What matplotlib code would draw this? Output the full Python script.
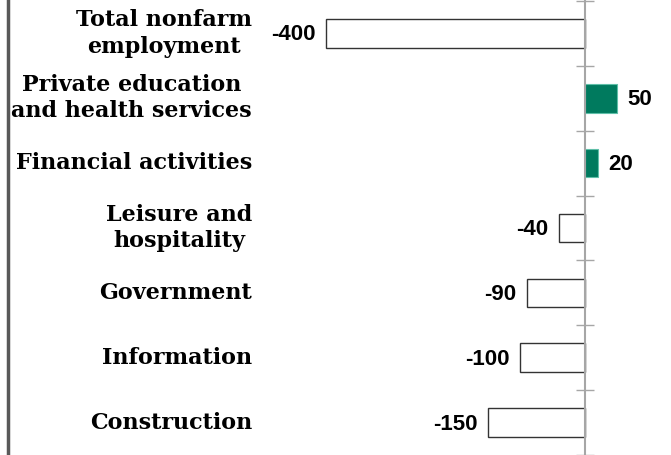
import matplotlib
matplotlib.use("Agg")
import matplotlib.pyplot as plt
from matplotlib.lines import Line2D
import matplotlib.transforms as mtransforms

categories = ["Total nonfarm\nemployment", "Private education\nand health services",
              "Financial activities", "Leisure and\nhospitality", "Government",
              "Information", "Construction"]
values = [-400, 50, 20, -40, -90, -100, -150]
value_labels = ["-400", "50", "20", "-40", "-90", "-100", "-150"]

W, H = 671, 455
fig = plt.figure(figsize=(W / 100, H / 100), dpi=100)
ax = fig.add_axes([0, 0, 1, 1])

px_per_unit = 0.6475
x0_px = 585
slot = 65.3
ax.set_xlim(-x0_px / px_per_unit, (W - x0_px) / px_per_unit)
top = -0.5 - 1 / slot
ax.set_ylim(top + H / slot, top)

pos_color = "#007A5E"
dy = 1.5 / slot
for i, v in enumerate(values):
    if v >= 0:
        ax.barh(i, v, height=0.44, color=pos_color, edgecolor="#5fbfa8", linewidth=0.8, zorder=2)
        ax.text(v + 10 / px_per_unit, i + dy, value_labels[i], ha="left", va="center",
                fontsize=16, fontweight="bold", family="Liberation Sans")
    else:
        ax.barh(i, v, height=0.44, color="white", edgecolor="#333333", linewidth=1.0, zorder=2)
        ax.text(v - 10.5 / px_per_unit, i + dy, value_labels[i], ha="right", va="center",
                fontsize=16, fontweight="bold", family="Liberation Sans")

trans = mtransforms.blended_transform_factory(ax.transAxes, ax.transData)
for i, c in enumerate(categories):
    ax.text(252 / W, i, c, transform=trans, ha="right", va="center", multialignment="center",
            fontsize=16, fontweight="bold", family="DejaVu Serif", linespacing=1.25)

for s in ["top", "right", "bottom"]:
    ax.spines[s].set_visible(False)
ax.spines["left"].set_position(("data", 0))
ax.spines["left"].set_color("#a6a6a6")
ax.spines["left"].set_linewidth(1.5)
ax.spines["left"].set_zorder(3)
ax.set_yticks([i - 0.5 for i in range(len(categories) + 1)])
ax.set_yticklabels([])
ax.tick_params(axis="y", direction="inout", length=12.5, width=1.0, color="#a6a6a6")
ax.set_xticks([])

fig.add_artist(Line2D([8 / W, 8 / W], [0, 1], transform=fig.transFigure, color="#595959", linewidth=2.5))

fig.savefig("out.png", dpi=100)
